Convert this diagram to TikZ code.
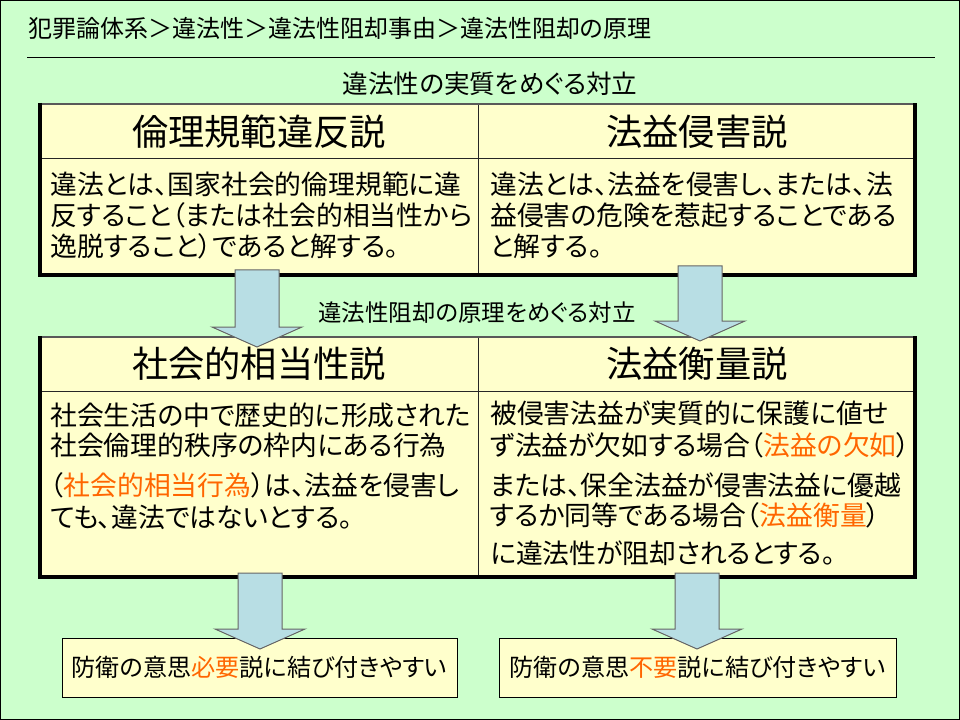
\documentclass[tikz,border=0pt]{standalone}
\usepackage{fontspec}
\setmainfont{Noto Sans CJK JP}[RawFeature=+palt]
\definecolor{bg}{HTML}{CCFFCC}
\definecolor{cellfill}{HTML}{FFFFCC}
\definecolor{arrowfill}{HTML}{B8DEE4}
\definecolor{accent}{HTML}{FF6600}
\newcommand\blkarrow[3]{%
  \draw[arrowshape] ({#1-22},#2) -- ({#1+22},#2) -- ({#1+22},{#3-20}) -- ({#1+45},{#3-20})
    -- (#1,#3) -- ({#1-45},{#3-20}) -- ({#1-22},{#3-20}) -- cycle;}
\begin{document}
\begin{tikzpicture}[x=0.75pt,y=-0.75pt,
  bodytext/.style={anchor=west, inner sep=0pt, font=\fontsize{20.1}{24}\selectfont},
  headtext/.style={inner sep=0pt, font=\fontsize{27.2}{32}\selectfont},
  captext/.style={inner sep=0pt, font=\fontsize{17.6}{21}\selectfont},
  titletext/.style={inner sep=0pt, font=\fontsize{18}{21}\selectfont},
  boxtext/.style={inner sep=0pt, font=\fontsize{18.1}{21}\selectfont},
  thinrule/.style={line width=0.75pt, black!85},
  outerrule/.style={line width=2.4pt, black},
  toprule/.style={line width=1.5pt, black!65},
  arrowshape/.style={fill=arrowfill, draw=black!60, line width=0.75pt, line join=miter}]
\useasboundingbox (0,0) rectangle (960,720);
\fill[bg] (0,0) rectangle (960,720);
\draw[line width=0.75pt] (0.5,0.5) rectangle (959.5,719.5);

% title
\node[titletext, anchor=west] (title) at (28,28) {犯罪論体系＞違法性＞違法性阻却事由＞違法性阻却の原理};
\draw[line width=0.75pt] (27,58) -- (935,58);
\node[captext, font=\fontsize{19.2}{22}\selectfont] (cap1) at (490,84) {違法性の実質をめぐる対立};

% table 1
\fill[cellfill] (40,104) rectangle (915,275);
\draw[thinrule] (40,159) -- (915,159);
\draw[thinrule] (478,104) -- (478,275);
\draw[toprule] (40,104) -- (915,104);
\draw[outerrule] (40,103) -- (40,275) -- (915,275) -- (915,103);
\node[headtext] (h1) at (259,132) {倫理規範違反説};
\node[headtext] (h2) at (697,132) {法益侵害説};
\node[bodytext] (a1) at (50,184) {違法とは、国家社会的倫理規範に違};
\node[bodytext] (a2) at (50,215) {反すること（または社会的相当性から};
\node[bodytext] (a3) at (50,246) {逸脱すること）であると解する。};
\node[bodytext] (b1) at (490,184) {違法とは、法益を侵害し、または、法};
\node[bodytext] (b2) at (490,215) {益侵害の危険を惹起することである};
\node[bodytext] (b3) at (490,246) {と解する。};

\node[captext] (cap2) at (477,313) {違法性阻却の原理をめぐる対立};

% table 2
\fill[cellfill] (40,337) rectangle (915,577);
\draw[thinrule] (40,391) -- (915,391);
\draw[thinrule] (478,337) -- (478,577);
\draw[toprule] (40,337) -- (915,337);
\draw[outerrule] (40,336) -- (40,577) -- (915,577) -- (915,336);
\node[headtext] (h3) at (259,364) {社会的相当性説};
\node[headtext] (h4) at (697,364) {法益衡量説};
\node[bodytext] (c1) at (50,415) {社会生活の中で歴史的に形成された};
\node[bodytext] (c2) at (50,445) {社会倫理的秩序の枠内にある行為};
\node[bodytext] (c3) at (50,485) {（\textcolor{accent}{社会的相当行為}）は、法益を侵害し};
\node[bodytext] (c4) at (50,517) {ても、違法ではないとする。};
\node[bodytext] (d1) at (490,413) {被侵害法益が実質的に保護に値せ};
\node[bodytext] (d2) at (490,445) {ず法益が欠如する場合（\textcolor{accent}{法益の欠如}）};
\node[bodytext] (d3) at (490,485) {または、保全法益が侵害法益に優越};
\node[bodytext] (d4) at (490,515) {するか同等である場合（\textcolor{accent}{法益衡量}）};
\node[bodytext] (d5) at (490,553) {に違法性が阻却されるとする。};

% bottom boxes
\draw[fill=cellfill, line width=0.75pt] (62,638) rectangle (457,697);
\draw[fill=cellfill, line width=0.75pt] (499,638) rectangle (896,697);
\node[boxtext] (e1) at (259.5,667) {防衛の意思\textcolor{accent}{必要}説に結び付きやすい};
\node[boxtext] (e2) at (697.5,667) {防衛の意思\textcolor{accent}{不要}説に結び付きやすい};

% block arrows
\blkarrow{257}{270}{347}
\blkarrow{700}{266}{341}
\blkarrow{260}{573}{649}
\blkarrow{697}{573}{649}
\end{tikzpicture}
\end{document}
